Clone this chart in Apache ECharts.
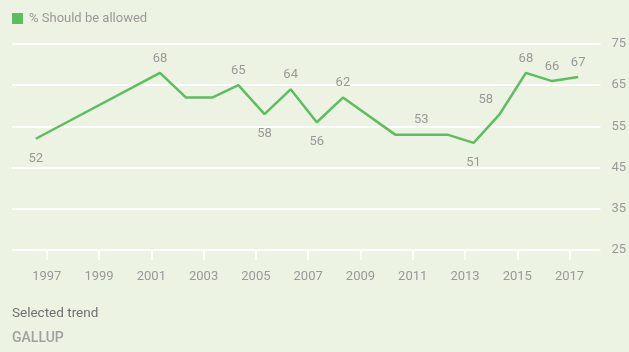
<!DOCTYPE html>
<html>
<head>
<meta charset="utf-8">
<script src="https://cdn.jsdelivr.net/npm/echarts@6/dist/echarts.min.js"></script>
<style>
html,body{margin:0;padding:0;background:#edf3e2;}
#chart{width:629px;height:352px;}
</style>
</head>
<body>
<div id="chart"></div>
<script>
// Survey dates (decimal years) and values
const years = [1996.58, 2001.33, 2002.33, 2003.33, 2004.33, 2005.33, 2006.33, 2007.33, 2008.33, 2010.33, 2011.33, 2012.33, 2013.33, 2014.33, 2015.33, 2016.33, 2017.33];
const shouldBeAllowed = [52, 68, 62, 62, 65, 58, 64, 56, 62, 53, 53, 53, 51, 58, 68, 66, 67];
const xTickYears = [1997, 1999, 2001, 2003, 2005, 2007, 2009, 2011, 2013, 2015, 2017];
const yTicks = [25, 35, 45, 55, 65, 75];
const seriesName = '% Should be allowed';
// where each value label sits relative to its point
const labelPlacement = ['bottom', 'top', 'none', 'none', 'top', 'bottom', 'top', 'bottom', 'top', 'none', 'top', 'none', 'bottom', 'topleft', 'top', 'top', 'top'];

const green = '#5dbd5f';
const labelColor = '#999999';
const font = 'Roboto, "Noto Sans", sans-serif';

const data = years.map((y, i) => {
  const p = labelPlacement[i];
  let label;
  if (p === 'none') label = { show: false };
  else if (p === 'bottom') label = { show: true, position: 'bottom', distance: 13 };
  else if (p === 'topleft') label = { show: true, position: 'top', distance: 8, offset: [-14, 0] };
  else label = { show: true, position: 'top', distance: 8 };
  return { value: [y, shouldBeAllowed[i]], label };
});

const chart = echarts.init(document.getElementById('chart'), null, { renderer: 'canvas' });
chart.setOption({
  backgroundColor: '#edf3e2',
  animation: false,
  textStyle: { fontFamily: font },
  legend: {
    left: 12, top: 12, padding: 0,
    icon: 'rect', itemWidth: 11, itemHeight: 11, itemGap: 10,
    textStyle: { color: labelColor, fontSize: 13, fontFamily: font, padding: [0, 0, 0, 1] },
    data: [seriesName]
  },
  grid: { left: 12, right: 26, top: 44, bottom: 102, containLabel: false },
  xAxis: {
    type: 'value',
    min: 1995.67, max: 2018.18,
    axisLine: { show: false },
    splitLine: { show: false },
    axisTick: { show: true, customValues: xTickYears, length: 10, lineStyle: { color: '#ffffff', width: 2 } },
    axisLabel: { show: true, customValues: xTickYears, formatter: v => String(v), color: labelColor, fontSize: 13, margin: 20, fontFamily: font }
  },
  yAxis: {
    type: 'value',
    position: 'right',
    min: yTicks[0], max: yTicks[yTicks.length - 1], interval: 10,
    axisLine: { show: false },
    axisTick: { show: false },
    splitLine: { show: true, lineStyle: { color: '#ffffff', width: 2 } },
    axisLabel: { color: labelColor, fontSize: 13, margin: 11, fontFamily: font }
  },
  series: [{
    name: seriesName,
    type: 'line',
    data: data,
    symbol: 'circle',
    symbolSize: 0.1,
    showSymbol: true,
    itemStyle: { color: green },
    lineStyle: { color: green, width: 2.5 },
    label: { color: labelColor, fontSize: 13, fontFamily: font },
    emphasis: { disabled: true }
  }],
  graphic: [
    { type: 'text', left: 12, top: 307, style: { text: 'Selected trend', fill: '#707070', font: '13.5px ' + font } },
    { type: 'text', left: 12, top: 331, style: { text: 'GALLUP', fill: '#a0a0a0', font: '500 14px ' + font, letterSpacing: 1.5 } }
  ]
});
</script>
</body>
</html>
